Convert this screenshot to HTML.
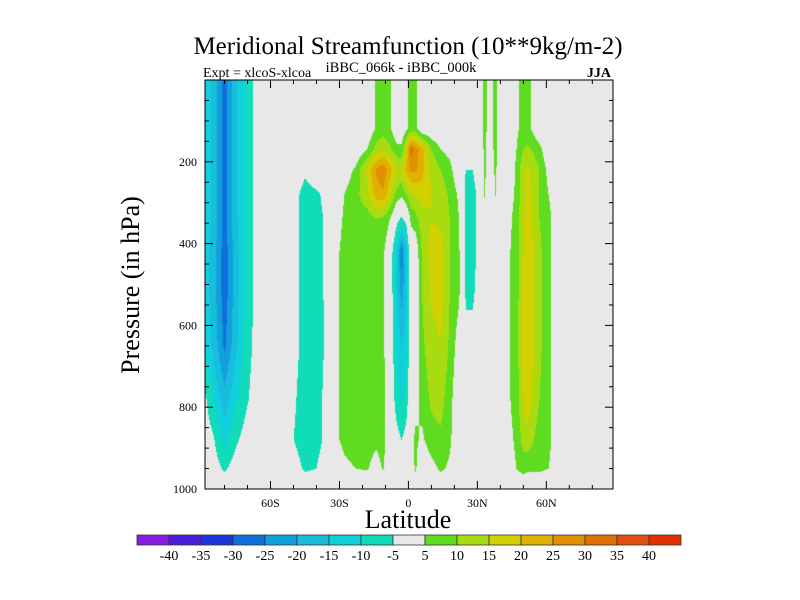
<!DOCTYPE html>
<html><head><meta charset="utf-8"><style>
html,body{margin:0;padding:0;background:#fff;}
#wrap{position:relative;width:800px;height:600px;font-family:"Liberation Serif",serif;}
canvas{position:absolute;left:205px;top:80px;}
svg{position:absolute;left:0;top:0;}
</style></head><body>
<div id="wrap">
<canvas id="cv" width="408" height="409"></canvas>
<svg id="sv" width="800" height="600"></svg>
</div>
<script>
const lats = [-89,-85,-80,-75,-70,-66,-60,-50,-45,-40,-35,-32,-28,-23,-18,-14,-11,-8,-5,-3,-1,1,3,6,10,14,18,22,25,28,31,33,35,38,40,43,47,50,52,57,61,65,70,80,89];
const levels = [10,120,170,220,280,340,420,520,650,780,880,950,1000];
const field = [
[-12,-12,-12,-12,-12,-12,-12,-12,-11,-3,-1,0,0],
[-16,-16,-16,-16,-16,-16,-17,-17,-16,-10,-4,-2,0],
[-27,-27,-27,-27,-27,-27,-28,-28,-26,-18,-12,-6,0],
[-16,-16,-16,-16,-16,-16,-17,-17,-16,-11,-6,-2,0],
[-8,-8,-8,-8,-8,-8,-8,-8,-7,-5.5,-2,0,0],
[-3,-3,-3,-3,-3,-3,-3,-3,-3,-2,0,0,0],
[0,0,0,0,0,0,0,0,0,0,0,0,0],
[0,0,0,-1,-3,-3,-3,-3,-3,-4,-5,-2,0],
[0,0,0,-4,-7,-7,-7,-7,-7,-8,-8,-6,0],
[0,0,0,-1,-6,-6.5,-6.5,-6.5,-7,-7,-7,-5,0],
[0,0,0,0,-3,-4,-4,-4,-4,-3,-3,-1,0],
[0,0,0,0,1,3,4,4,4,4,4,2,0],
[0,0,0,2,5,5.5,6,6,6,6,6,4,0],
[0,0,0,6,8,7,7,7,7,7,7,5,0],
[0,0,5,16,14,7,7,7,7,7,7,5.5,0],
[6,6,12,26,22,10,7,7,7,7,6,3,0],
[7,7,15,29,24,9,6,6,6,7,7,5.5,0],
[6,6,11,22,16,5,0,0,0,0,0,0,0],
[0,0,7,15,8,-3,-14,-14,-11,-8,-3,0,0],
[0,0,7,14,6,-6,-27,-22,-15,-11,-5,0,0],
[4,4,16,22,10,-3,-16,-16,-12,-8,-3,0,0],
[7,7,32,26,14,6,1,0,0,0,3,0,0],
[7,7,28,26,15,8,0,0,0,3,6,6,0],
[0,0,22,22,17,13,11,10,9,7,4,0,0],
[0,0,10,14,15,15,17,16,13,11,8,3,0],
[0,0,5,10,13,14,17,17,15,12,9,6,0],
[0,0,3,7,9,10,10,10,9,7,6,4,0],
[0,0,0,0,4,5,6,6,2,0,0,0,0],
[0,0,0,-5,-7,-7,-7,-6,-3,0,0,0,0],
[0,0,0,-5,-7,-7,-7,-6,-3,0,0,0,0],
[0,0,0,-1,-3,-3,-3,-2,0,0,0,0,0],
[7,7,6,6,5.5,3,0,0,0,0,0,0,0],
[3,3,3,3,2,0,0,0,0,0,0,0,0],
[6,6,6,5.5,5.5,0,0,0,0,0,0,0,0],
[2,2,2,2,2,0,0,0,0,0,0,0,0],
[0,0,0,0,2,3,4,4,4,4,3,2,0],
[4,4,5,6,6,7,7,7,7,7,6,5,0],
[7,7,10,14,14,15,16,17,18,16,12,7,0],
[7,7,11,16,17,18,20,20,20,18,13,6,0],
[0,0,7,10,10,10,11,11,11,10,7,6,0],
[0,0,0,3,5,7,7,7,7,7,7,5,0],
[0,0,0,0,0,0,0,0,0,0,0,0,0],
[0,0,0,0,0,0,0,0,0,0,0,0,0],
[0,0,0,0,0,0,0,0,0,0,0,0,0],
[0,0,0,0,0,0,0,0,0,0,0,0,0]
];
const cbLabels = [-40,-35,-30,-25,-20,-15,-10,-5,5,10,15,20,25,30,35,40];
const cbColors = ["#8a1ee0","#4a1ddc","#1f35dc","#0f70dc","#10a0dc","#18bcdc","#10d0dc","#10dcb8","#e8e8e8","#60dc20","#a8dc10","#d2d000","#e0b000","#e09000","#e07000","#e05010","#e03000"];
const xTickLabels = ["60S","30S","0","30N","60N"];
const xTickVals = [-60,-30,0,30,60];
const yTickVals = [200,400,600,800,1000];

const L=205,T=80,W=408,H=409;
const latMin=-88.5, latMax=89;
const xs = v => L + (v-latMin)/(latMax-latMin)*W;
const ys = p => T + p/1000*H;

function hex(c){return [parseInt(c.substr(1,2),16),parseInt(c.substr(3,2),16),parseInt(c.substr(5,2),16)];}
const rgb = cbColors.map(hex);
function colorIdx(v){let i=0;while(i<cbLabels.length && v>=cbLabels[i]) i++;return i;}
function findSeg(arr,v){if(v<=arr[0])return [0,0];if(v>=arr[arr.length-1])return [arr.length-2,1];
 for(let i=0;i<arr.length-1;i++){if(v>=arr[i]&&v<=arr[i+1])return [i,(v-arr[i])/(arr[i+1]-arr[i])];}return [0,0];}
const cv=document.getElementById('cv');const ctx=cv.getContext('2d');
const img=ctx.createImageData(W,H);
for(let py=0;py<H;py++){
 const p=(py+0.5)/H*1000; const [j,fy]=findSeg(levels,p);
 for(let px=0;px<W;px++){
  const lat=latMin+(px+0.5)/W*(latMax-latMin); const [i,fx]=findSeg(lats,lat);
  const v=(1-fx)*(1-fy)*field[i][j]+fx*(1-fy)*field[i+1][j]+(1-fx)*fy*field[i][j+1]+fx*fy*field[i+1][j+1];
  const c=rgb[colorIdx(v)]; const k=(py*W+px)*4;
  img.data[k]=c[0];img.data[k+1]=c[1];img.data[k+2]=c[2];img.data[k+3]=255;
 }}
ctx.putImageData(img,0,0);

const NS="http://www.w3.org/2000/svg";const sv=document.getElementById('sv');
function el(tag,attrs,parent){const e=document.createElementNS(NS,tag);for(const k in attrs)e.setAttribute(k,attrs[k]);(parent||sv).appendChild(e);return e;}
function txt(s,attrs){const e=el('text',attrs);e.textContent=s;return e;}
let e;
e=el('rect',{x:L,y:T,width:W,height:H,fill:'none',stroke:'#000','stroke-width':1});


for(let v=-80;v<=80;v+=10){
 const x=xs(v); const len=(v%30===0)?8:4;
 e=el('line',{x1:x,y1:T+H,x2:x,y2:T+H-len,stroke:'#000'});
 
 
 e=el('line',{x1:x,y1:T,x2:x,y2:T+len,stroke:'#000'});
 
 
}
xTickVals.forEach((v,i)=>{
 e=txt(xTickLabels[i],{x:xs(v),y:T+H+18,'font-size':12,'text-anchor':'middle'});
 
 
});
for(let p=50;p<1000;p+=50){
 const y=ys(p); const len=(p%200===0)?8:4;
 e=el('line',{x1:L,y1:y,x2:L+len,y2:y,stroke:'#000'});
 
 
 e=el('line',{x1:L+W,y1:y,x2:L+W-len,y2:y,stroke:'#000'});
 
 
}
yTickVals.forEach(v=>{
 e=txt(String(v),{x:L-8,y:ys(v)+4,'font-size':12,'text-anchor':'end'});
 
 
});
e=txt('Meridional Streamfunction (10**9kg/m-2)',{x:408,y:54,'font-size':25,'text-anchor':'middle'});


e=txt('Expt = xlcoS-xlcoa',{x:203,y:77,'font-size':14});


e=txt('iBBC_066k - iBBC_000k',{x:401,y:72,'font-size':14.5,'text-anchor':'middle'});


e=txt('JJA',{x:611,y:77,'font-size':14,'text-anchor':'end','font-weight':'bold'});


e=txt('Pressure (in hPa)',{x:0,y:0,'font-size':26,'text-anchor':'middle',transform:'translate(139,285) rotate(-90)'});


e=txt('Latitude',{x:408,y:528,'font-size':26,'text-anchor':'middle'});


const cbL=137,cbR=681,cbT=535,cbH=10,bw=(cbR-cbL)/cbColors.length;
cbColors.forEach((c,i)=>{
 e=el('rect',{x:cbL+i*bw,y:cbT,width:bw,height:cbH,fill:c,stroke:'#333','stroke-width':0.8});
 
 
});
cbLabels.forEach((v,i)=>{
 e=txt(String(v),{x:cbL+(i+1)*bw,y:cbT+cbH+15,'font-size':14,'text-anchor':'middle'});
 
 
});
</script>
</body></html>
